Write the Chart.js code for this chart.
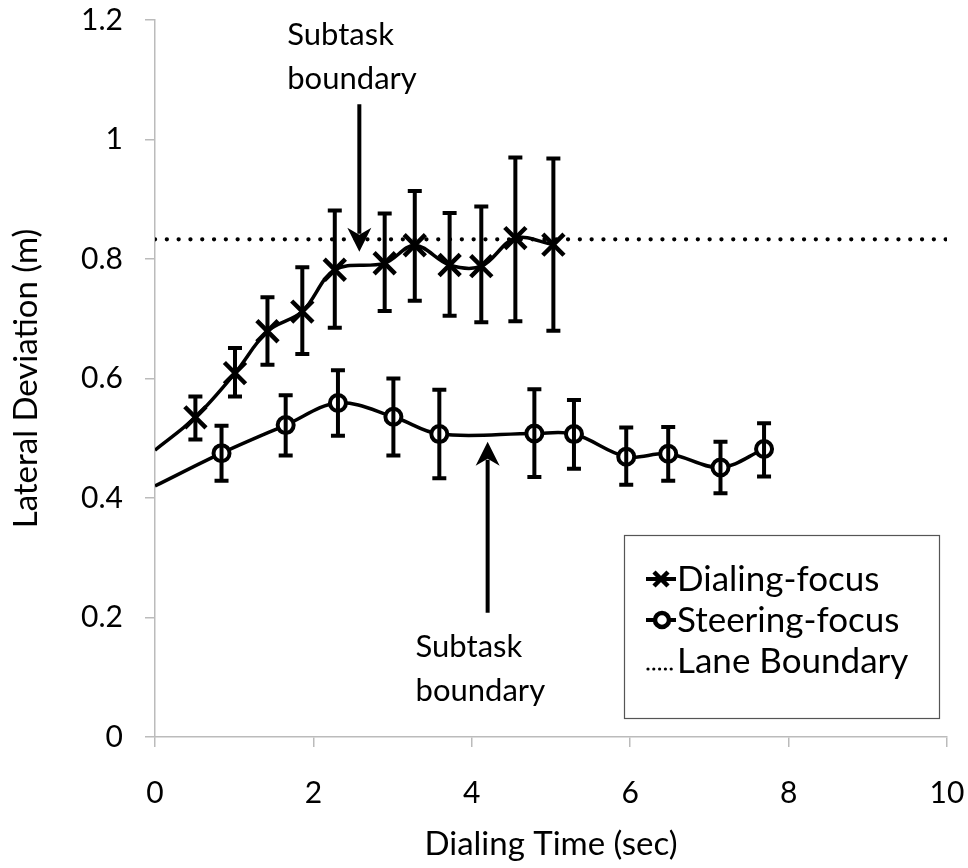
<!DOCTYPE html>
<html>
<head>
<meta charset="utf-8">
<script src="https://cdn.jsdelivr.net/npm/chart.js@4.4.1/dist/chart.umd.min.js"></script>
<style>
  html, body { margin: 0; padding: 0; background: #fff; }
  canvas { display: block; }
</style>
</head>
<body>
<canvas id="chart" width="968" height="868"></canvas>
<script>
// ---- data ----
const dialTime  = [0, 0.51, 1.01, 1.42, 1.86, 2.27, 2.90, 3.28, 3.72, 4.12, 4.55, 5.03];
const dialDev   = [0.48, 0.535, 0.609, 0.679, 0.712, 0.782, 0.793, 0.823, 0.790, 0.788, 0.835, 0.824];
const dialErrHi = [null, 0.570, 0.651, 0.736, 0.786, 0.881, 0.876, 0.914, 0.877, 0.888, 0.970, 0.968];
const dialErrLo = [null, 0.498, 0.570, 0.623, 0.641, 0.685, 0.713, 0.730, 0.705, 0.694, 0.696, 0.680];

const steerTime  = [0, 0.84, 1.65, 2.31, 3.01, 3.59, 4.79, 5.29, 5.95, 6.48, 7.14, 7.69];
const steerDev   = [0.42, 0.475, 0.522, 0.559, 0.536, 0.507, 0.508, 0.507, 0.469, 0.474, 0.451, 0.482];
const steerErrHi = [null, 0.521, 0.572, 0.614, 0.600, 0.581, 0.582, 0.564, 0.518, 0.519, 0.494, 0.525];
const steerErrLo = [null, 0.429, 0.471, 0.504, 0.471, 0.433, 0.435, 0.449, 0.422, 0.429, 0.408, 0.436];

const laneTime = [0, 10];
const laneDev  = [0.833, 0.833];

const xTicks = [0, 2, 4, 6, 8, 10];
const yTicks = [0, 0.2, 0.4, 0.6, 0.8, 1, 1.2];

const FONT = 'Lato, "Open Sans", sans-serif';

const toPts = (xs, ys) => xs.map((x, i) => ({x: x, y: ys[i]}));

// error bars for the two measured series
const errorBars = {
    id: 'errorBars',
    afterDatasetsDraw(chart) {
        const {ctx, scales: {x, y}} = chart;
        const sets = [[dialTime, dialErrHi, dialErrLo], [steerTime, steerErrHi, steerErrLo]];
        ctx.save();
        ctx.strokeStyle = '#000';
        ctx.lineWidth = 4;
        ctx.lineCap = 'butt';
        sets.forEach(([xs, hi, lo]) => {
            xs.forEach((t, i) => {
                if (hi[i] == null) return;
                const px = x.getPixelForValue(t);
                const top = y.getPixelForValue(hi[i]);
                const bot = y.getPixelForValue(lo[i]);
                ctx.beginPath();
                ctx.moveTo(px, top); ctx.lineTo(px, bot);
                ctx.moveTo(px - 7, top); ctx.lineTo(px + 7, top);
                ctx.moveTo(px - 7, bot); ctx.lineTo(px + 7, bot);
                ctx.stroke();
            });
        });
        ctx.restore();
    }
};

// "Subtask boundary" arrows and labels
const annotations = {
    id: 'annotations',
    afterDatasetsDraw(chart) {
        const {ctx, scales: {x, y}} = chart;
        const arrows = [
            {x: 2.58, from: 1.059, to: 0.812, text: ['Subtask', 'boundary'], tx: 1.67, ty: [35, 79]},
            {x: 4.20, from: 0.208, to: 0.494, text: ['Subtask', 'boundary'], tx: 3.29, ty: [647, 691]}
        ];
        ctx.save();
        ctx.strokeStyle = '#000';
        ctx.fillStyle = '#000';
        ctx.lineWidth = 4;
        arrows.forEach(a => {
            const px = x.getPixelForValue(a.x);
            const y0 = y.getPixelForValue(a.from);
            const y1 = y.getPixelForValue(a.to);
            const dir = y1 > y0 ? 1 : -1;
            ctx.beginPath();
            ctx.moveTo(px, y0);
            ctx.lineTo(px, y1 - dir * 18);
            ctx.stroke();
            ctx.beginPath();
            ctx.moveTo(px, y1);
            ctx.lineTo(px - 12, y1 - dir * 24);
            ctx.lineTo(px, y1 - dir * 17);
            ctx.lineTo(px + 12, y1 - dir * 24);
            ctx.closePath();
            ctx.fill();
            ctx.font = '31px ' + FONT;
            ctx.textAlign = 'left';
            ctx.textBaseline = 'middle';
            a.text.forEach((t, i) => ctx.fillText(t, x.getPixelForValue(a.tx), a.ty[i]));
        });
        ctx.restore();
    }
};

// legend box drawn inside the plot
const boxLegend = {
    id: 'boxLegend',
    afterDraw(chart) {
        const ctx = chart.ctx;
        const L = 624, T = 535, W = 315, H = 183;
        ctx.save();
        ctx.fillStyle = '#fff';
        ctx.fillRect(L, T, W, H);
        ctx.strokeStyle = '#555';
        ctx.lineWidth = 1.2;
        ctx.strokeRect(L + 0.5, T + 0.5, W, H);
        const rows = [
            {label: 'Dialing-focus', y: 579, kind: 'x'},
            {label: 'Steering-focus', y: 620, kind: 'o'},
            {label: 'Lane Boundary', y: 661, kind: 'dot'}
        ];
        rows.forEach(r => {
            const x0 = 646, x1 = 676, cx = 661;
            ctx.strokeStyle = '#000';
            if (r.kind === 'dot') {
                ctx.fillStyle = '#000';
                for (let k = 0; k < 5; k++) {
                    ctx.beginPath();
                    ctx.arc(x0 + 2 + k * 5.8, r.y + 8, 1.6, 0, Math.PI * 2);
                    ctx.fill();
                }
            } else {
                ctx.lineWidth = 4;
                ctx.beginPath();
                ctx.moveTo(x0, r.y); ctx.lineTo(x1, r.y);
                ctx.stroke();
                if (r.kind === 'x') {
                    ctx.lineWidth = 4.5;
                    ctx.beginPath();
                    ctx.moveTo(cx - 7, r.y - 7); ctx.lineTo(cx + 7, r.y + 7);
                    ctx.moveTo(cx - 7, r.y + 7); ctx.lineTo(cx + 7, r.y - 7);
                    ctx.stroke();
                } else {
                    ctx.fillStyle = '#fff';
                    ctx.lineWidth = 4.5;
                    ctx.beginPath();
                    ctx.arc(cx + 1, r.y, 7, 0, Math.PI * 2);
                    ctx.fill();
                    ctx.stroke();
                }
            }
            ctx.fillStyle = '#000';
            ctx.font = '35px ' + FONT;
            ctx.textAlign = 'left';
            ctx.textBaseline = 'middle';
            ctx.fillText(r.label, 677, r.y + 1);
        });
        ctx.restore();
    }
};

new Chart(document.getElementById('chart'), {
    type: 'line',
    data: {
        datasets: [
            {label: 'Lane Boundary', data: toPts(laneTime, laneDev), borderColor: '#000', borderWidth: 4.2,
             borderDash: [0.1, 11.7], borderCapStyle: 'round', pointRadius: 0, tension: 0},
            {label: 'Dialing-focus', data: toPts(dialTime, dialDev), borderColor: '#000', borderWidth: 3.5,
             tension: 0.35, pointStyle: 'crossRot', pointRadius: dialTime.map((t, i) => i === 0 ? 0 : 15),
             pointBorderWidth: 4.5, pointBorderColor: '#000', pointBackgroundColor: '#000'},
            {label: 'Steering-focus', data: toPts(steerTime, steerDev), borderColor: '#000', borderWidth: 3.5,
             tension: 0.35, pointStyle: 'circle', pointRadius: steerTime.map((t, i) => i === 0 ? 0 : 8),
             pointBorderWidth: 4, pointBorderColor: '#000', pointBackgroundColor: '#fff'}
        ]
    },
    options: {
        responsive: false,
        animation: false,
        layout: {padding: {top: 20, right: 21, left: 0, bottom: 0}},
        plugins: {legend: {display: false}, tooltip: {enabled: false}},
        scales: {
            x: {
                type: 'linear', min: 0, max: 10,
                afterFit(s) { s.height = 131; s.paddingLeft = 0; s.paddingRight = 0; },
                afterBuildTicks(s) { s.ticks = xTicks.map(v => ({value: v})); },
                grid: {display: true, drawOnChartArea: false, drawTicks: true, tickLength: 10, color: '#bbb', lineWidth: 1.5},
                border: {color: '#bbb', width: 1.5},
                ticks: {color: '#000', font: {family: FONT, size: 30}, padding: 28, maxRotation: 0},
                title: {display: true, text: 'Dialing Time (sec)', color: '#000', font: {family: FONT, size: 33},
                        padding: {top: 0, bottom: 4}}
            },
            y: {
                min: 0, max: 1.2,
                afterFit(s) { s.width = 155; s.paddingTop = 0; s.paddingBottom = 0; },
                afterBuildTicks(s) { s.ticks = yTicks.map(v => ({value: v})); },
                grid: {display: true, drawOnChartArea: false, drawTicks: true, tickLength: 10, color: '#bbb', lineWidth: 1.5},
                border: {color: '#bbb', width: 1.5},
                ticks: {color: '#000', font: {family: FONT, size: 30}, padding: 22,
                        callback: v => String(Math.round(v * 10) / 10)},
                title: {display: true, text: 'Lateral Deviation (m)', color: '#000', font: {family: FONT, size: 33},
                        padding: {top: 7, bottom: 0}}
            }
        }
    },
    plugins: [errorBars, annotations, boxLegend]
});
</script>
</body>
</html>
